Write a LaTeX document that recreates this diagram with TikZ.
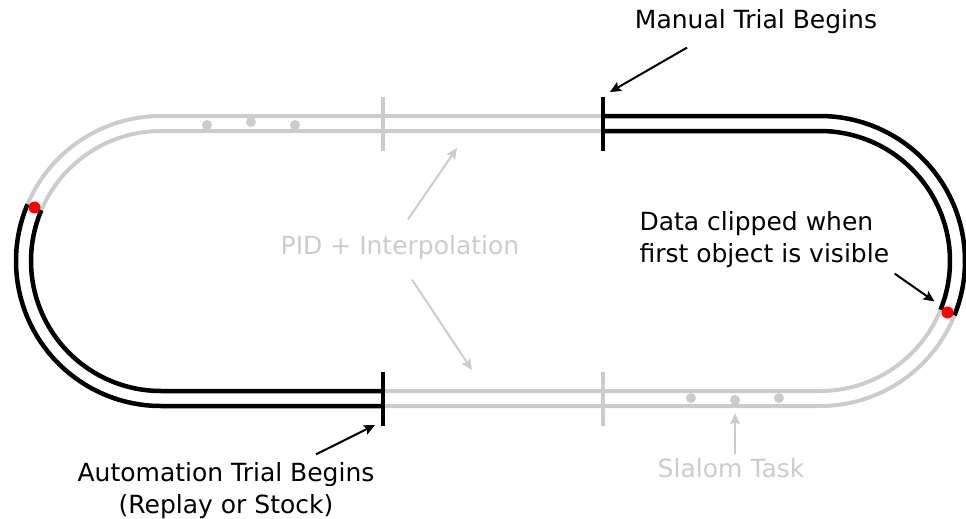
\documentclass[tikz,border=0pt]{standalone}
\usepackage{fontspec}
\setmainfont{DejaVu Sans}
\usepackage{xcolor}
\usepackage{tikz}
\usetikzlibrary{arrows.meta, positioning, calc}
\definecolor{railgray}{HTML}{CCCCCC}
\tikzstyle{rail} = [line width=4pt, draw=railgray]
\tikzstyle{active} = [line width=4.5pt, draw=black]
\tikzstyle{gate} = [line width=4pt]
\tikzstyle{label} = [font=\fontsize{25}{32}\selectfont, text=black, align=center]
\tikzstyle{faded} = [font=\fontsize{25}{32}\selectfont, text=railgray, align=center]
\tikzstyle{arrow} = [line width=2pt,-{Stealth[length=11pt,width=10pt,inset=2pt]}]
\tikzstyle{cone} = [circle, fill=railgray, inner sep=0pt, minimum size=10pt]
\tikzstyle{marker} = [circle, fill=red, inner sep=0pt, minimum size=12pt]

\begin{document}
\begin{tikzpicture}[x=1pt, y=1pt]
\useasboundingbox (0,0) rectangle (966,-519);

% Full track (grey)
\draw [rail] (161,-116) -- (820,-116) arc[start angle=90, end angle=-90, radius=145] -- (161,-406) arc[start angle=270, end angle=90, radius=145] -- cycle;
\draw [rail] (161,-131) -- (820,-131) arc[start angle=90, end angle=-90, radius=130] -- (161,-391) arc[start angle=270, end angle=90, radius=130] -- cycle;

% Recorded portions (black)
\draw [active] (603,-116) -- (820,-116) arc[start angle=90, end angle=-22, radius=145];
\draw [active] (603,-131) -- (820,-131) arc[start angle=90, end angle=-22, radius=130];
\draw [active] (383,-406) -- (161,-406) arc[start angle=270, end angle=157, radius=145];
\draw [active] (383,-391) -- (161,-391) arc[start angle=270, end angle=157, radius=130];

% Gates
\coordinate (mangate) at (603,-97);
\coordinate (autogate) at (383,-426);
\draw [gate, railgray] (383,-97) -- (383,-151);
\draw [gate, black] (mangate) -- (603,-151);
\draw [gate, black] (383,-372) -- (autogate);
\draw [gate, railgray] (603,-372) -- (603,-426);

% Slalom objects
\foreach \x/\y in {207/-125, 251/-122, 295/-125, 691/-398, 779/-398}
    \node [cone] at (\x,\y) {};
\node [cone] (midcone) at (735,-400) {};

% Clip points
\node [marker] (leftclip) at (34.5,-207.5) {};
\node [marker] (rightclip) at (947.5,-312.5) {};

% Labels
\node [label] (manual) at (756,-22) {Manual Trial Begins};
\node [label, align=left, anchor=west] (clipped) at (636,-240) {Data clipped when\\first object is visible};
\node [label] (automation) at (226,-491) {Automation Trial Begins\\(Replay or Stock)};
\node [faded] (pid) at (400,-248) {PID + Interpolation};
\node [faded] (slalom) at (731,-468) {Slalom Task};

\coordinate (pidtop) at (457,-148);
\coordinate (pidbottom) at (472,-370);

% Arrows
\draw [arrow] ($(manual.south)+(-69,-10)$) -- ([xshift=7pt,yshift=5pt]mangate);
\draw [arrow] ($(clipped.south east)+(2,-2)$) -- ($(rightclip)+(-13,11)$);
\draw [arrow] ($(automation.north east)+(-62,5)$) -- ([xshift=-8pt,yshift=1pt]autogate);
\draw [arrow, railgray] ($(pid.north)+(8,13)$) -- (pidtop);
\draw [arrow, railgray] ($(pid.south)+(12,-16)$) -- (pidbottom);
\draw [arrow, railgray] ($(slalom.north)+(4,1)$) -- ([yshift=-8pt]midcone.south);

\end{tikzpicture}
\end{document}
